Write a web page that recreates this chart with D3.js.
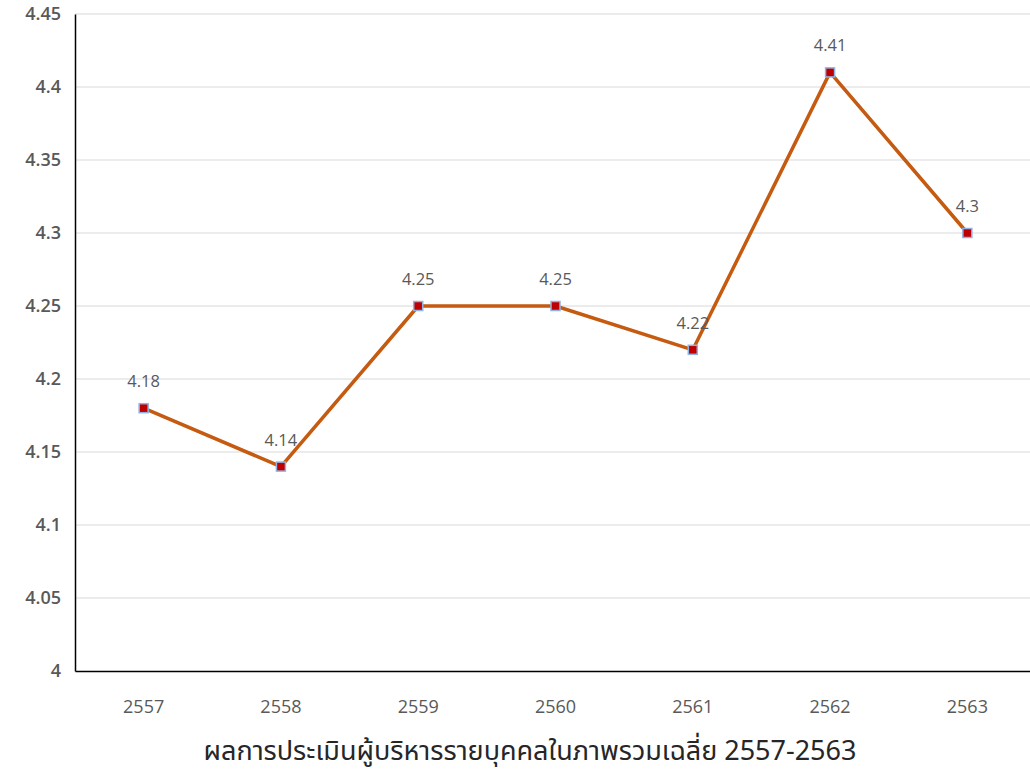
<!DOCTYPE html>
<html><head><meta charset="utf-8">
<script src="https://cdn.jsdelivr.net/npm/d3@7"></script>
<style>body{margin:0;background:#fff}svg{display:block}</style>
</head><body>
<svg id="c" width="1030" height="776"></svg>
<script>
const years = ["2557","2558","2559","2560","2561","2562","2563"];
const scores = [4.18, 4.14, 4.25, 4.25, 4.22, 4.41, 4.30];
const scoreLabels = ["4.18","4.14","4.25","4.25","4.22","4.41","4.3"];
const yTicks = [4, 4.05, 4.1, 4.15, 4.2, 4.25, 4.3, 4.35, 4.4, 4.45];
const yTickLabels = ["4","4.05","4.1","4.15","4.2","4.25","4.3","4.35","4.4","4.45"];
const title = "ผลการประเมินผู้บริหารรายบุคคลในภาพรวมเฉลี่ย 2557-2563";

const svg = d3.select("#c");
const L = 75, T = 14, B = 671, R = 1036;
const x = d3.scaleBand().domain(years).range([L, R]);
const y = d3.scaleLinear().domain([4, 4.45]).range([B, T]);
const font = "'Open Sans','Noto Sans',sans-serif";

// gridlines
svg.append("g").selectAll("line").data(yTicks.slice(1)).join("line")
  .attr("x1", L).attr("x2", 1030).attr("y1", d => y(d)).attr("y2", d => y(d))
  .attr("stroke", "#d9d9d9").attr("stroke-width", 1);

// y axis
const yAxis = d3.axisLeft(y).tickValues(yTicks).tickSize(0).tickPadding(14)
  .tickFormat((d, i) => yTickLabels[i]);
const gy = svg.append("g").attr("transform", `translate(${L},0)`).call(yAxis);
gy.select(".domain").attr("stroke", "#000").attr("stroke-width", 1.5);
gy.selectAll("text").attr("font-family", font).attr("font-size", 18)
  .attr("font-weight", 600).attr("fill", "#595959");

// x axis
const xAxis = d3.axisBottom(x).tickSize(0).tickPadding(29);
const gx = svg.append("g").attr("transform", `translate(0,${B})`).call(xAxis);
gx.select(".domain").attr("stroke", "#000").attr("stroke-width", 1.5);
gx.selectAll("text").attr("font-family", font).attr("font-size", 18).attr("fill", "#595959");

const cx = d => x(d) + x.bandwidth() / 2;
const line = d3.line().x((d, i) => cx(years[i])).y(d => y(d));
svg.append("path").datum(scores).attr("d", line)
  .attr("fill", "none").attr("stroke", "#C55A11").attr("stroke-width", 3.5)
  .attr("stroke-linejoin", "round");

svg.append("g").selectAll("rect").data(scores).join("rect")
  .attr("x", (d, i) => cx(years[i]) - 4.5).attr("y", d => y(d) - 4.5)
  .attr("width", 9).attr("height", 9)
  .attr("fill", "#C00000").attr("stroke", "#8FB4E3").attr("stroke-width", 1.5);

svg.append("g").selectAll("text").data(scores).join("text")
  .attr("x", (d, i) => cx(years[i])).attr("y", d => y(d) - 21)
  .attr("text-anchor", "middle").attr("font-family", font).attr("font-size", 16.5)
  .attr("fill", "#595959").text((d, i) => scoreLabels[i]);

svg.append("text").attr("x", 530).attr("y", 760).attr("text-anchor", "middle")
  .attr("font-family", "'Noto Sans','Noto Sans Thai',sans-serif").attr("font-size", 27)
  .attr("fill", "#262626").text(title);
</script>
</body></html>
